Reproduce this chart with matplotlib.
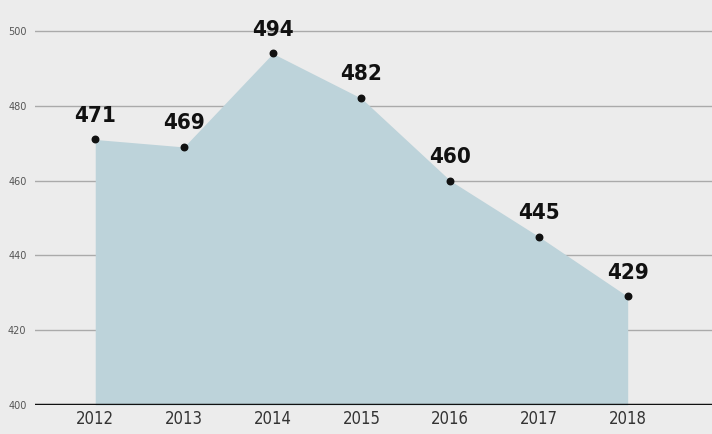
import matplotlib
matplotlib.use("Agg")
import matplotlib.pyplot as plt

years = [2012, 2013, 2014, 2015, 2016, 2017, 2018]
values = [471, 469, 494, 482, 460, 445, 429]
yticks = [400, 420, 440, 460, 480, 500]

fig = plt.figure(figsize=(7.12, 4.34), dpi=100)
fig.patch.set_facecolor("#ececec")
ax = fig.add_axes([0.049, 0.067, 0.951, 0.933])
ax.set_facecolor("#ececec")

ax.fill_between(years, values, 400, color="#bdd3da", zorder=1, linewidth=0)
ax.scatter(years, values, s=22, color="#111111", zorder=3)
for x, v in zip(years, values):
    ax.annotate(str(v), (x, v), xytext=(0, 10), textcoords="offset points",
                ha="center", va="bottom", fontsize=16, fontweight="bold",
                family="DejaVu Sans", fontstretch="condensed", color="#111111")

ax.set_xlim(2011.32, 2018.95)
ax.set_ylim(400, 508.3)
ax.set_yticks(yticks)
ax.set_yticklabels([str(t) for t in yticks], fontsize=7, color="#555555")
ax.set_xticks(years)
ax.set_xticklabels([str(y) for y in years], fontsize=12, color="#333333",
                   family="DejaVu Sans", fontstretch="condensed")
ax.tick_params(axis="y", length=0, pad=6)
ax.tick_params(axis="x", length=0, pad=4)
for t in yticks[1:]:
    ax.axhline(t, color="#aaaaaa", linewidth=1.0, zorder=0.5)
ax.axhline(400, color="#111111", linewidth=2.5, zorder=4)
for s in ax.spines.values():
    s.set_visible(False)

fig.savefig("out.png", dpi=100, facecolor=fig.get_facecolor())
